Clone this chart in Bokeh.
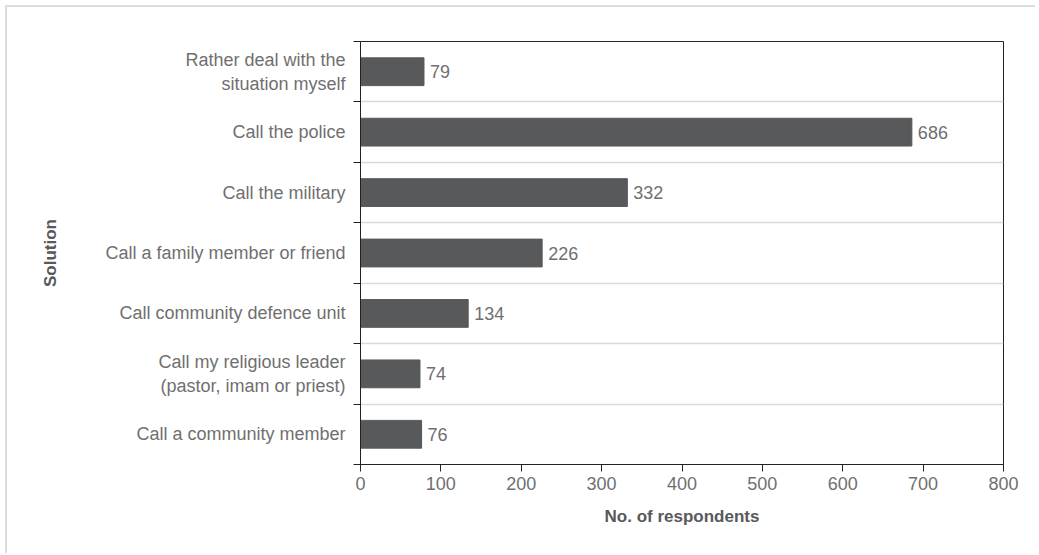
from bokeh.plotting import figure
from bokeh.models import FixedTicker, ColumnDataSource, Range1d
from bokeh.core.properties import value
from bokeh.embed import file_html
from bokeh.resources import INLINE

categories = [
    "Rather deal with the\nsituation myself",
    "Call the police",
    "Call the military",
    "Call a family member or friend",
    "Call community defence unit",
    "Call my religious leader\n(pastor, imam or priest)",
    "Call a community member",
]
counts = [79, 686, 332, 226, 134, 74, 76]
x_ticks = [0, 100, 200, 300, 400, 500, 600, 700, 800]

n = len(categories)
ypos = [n - 1 - i for i in range(n)]
src = ColumnDataSource(dict(y=ypos, v=counts, lab=[str(c) for c in counts]))

FONT = "Liberation Sans"
GREY = "#6f6f71"
FS = "18px"

p = figure(width=1030, height=548, output_backend="svg", toolbar_location=None,
           x_range=Range1d(0, 800), y_range=Range1d(-0.5, n - 0.5),
           min_border_left=353, min_border_right=34, min_border_top=34, min_border_bottom=91)
p.styles = {"border-top": "2px solid #dcdcdc", "border-left": "2px solid #dcdcdc",
            "margin-top": "5px", "margin-left": "5px"}

p.hbar(y="y", right="v", left=0, height=0.46, source=src, color="#58595b")
p.text(x="v", y="y", text="lab", source=src, x_offset=6, text_baseline="middle",
       text_align="left", text_font=value(FONT), text_font_size=FS, text_color=GREY)

p.outline_line_color = "#222222"
p.outline_line_width = 1

# x axis
p.xaxis.ticker = FixedTicker(ticks=x_ticks)
p.xaxis.axis_line_color = "#222222"
p.xaxis.major_tick_line_color = "#222222"
p.xaxis.major_tick_out = 7
p.xaxis.major_tick_in = 0
p.xaxis.minor_tick_line_color = None
p.xaxis.major_label_text_font = FONT
p.xaxis.major_label_text_font_size = FS
p.xaxis.major_label_text_color = GREY
p.xaxis.major_label_standoff = 5
p.xaxis.axis_label = "No. of respondents"
p.xaxis.axis_label_text_font = FONT
p.xaxis.axis_label_text_font_style = "bold"
p.xaxis.axis_label_text_font_size = "17px"
p.xaxis.axis_label_text_color = "#58595b"
p.xaxis.axis_label_standoff = 14

# y axis
bounds = [i - 0.5 for i in range(n + 1)]
p.yaxis.ticker = FixedTicker(ticks=list(range(n)), minor_ticks=bounds)
p.yaxis.major_label_overrides = {ypos[i]: categories[i] for i in range(n)}
p.yaxis.axis_line_color = "#222222"
p.yaxis.major_tick_line_color = None
p.yaxis.major_tick_out = 0
p.yaxis.major_tick_in = 0
p.yaxis.minor_tick_line_color = "#222222"
p.yaxis.minor_tick_out = 7
p.yaxis.minor_tick_in = 0
p.yaxis.major_label_text_font = FONT
p.yaxis.major_label_text_font_size = FS
p.yaxis.major_label_text_color = GREY
p.yaxis.major_label_standoff = 8
p.yaxis.axis_label = "Solution"
p.yaxis.axis_label_text_font = FONT
p.yaxis.axis_label_text_font_style = "bold"
p.yaxis.axis_label_text_font_size = "17px"
p.yaxis.axis_label_text_color = "#58595b"
p.yaxis.axis_label_standoff = 42

p.xgrid.grid_line_color = None
p.ygrid.ticker = FixedTicker(ticks=bounds[1:-1])
p.ygrid.grid_line_color = "#d9d9d9"
p.ygrid.grid_line_width = 1.5

open("out.html", "w").write(file_html(p, INLINE))
